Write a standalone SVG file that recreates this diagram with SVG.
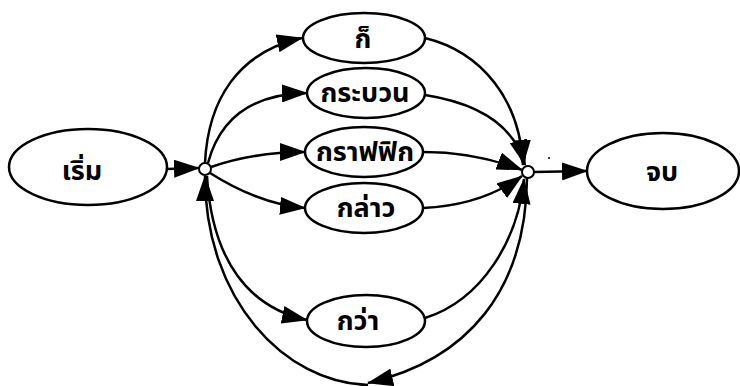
<svg xmlns="http://www.w3.org/2000/svg" width="740" height="386" viewBox="0 0 740 386">
<style>
.n ellipse{fill:#fff;stroke:#000;stroke-width:2.5}
.j{fill:#fff;stroke:#000;stroke-width:2}
.t{font-family:"Noto Sans Thai","Noto Sans Thai Looped","DejaVu Sans","Noto Sans",sans-serif;font-size:27px;font-weight:bold;text-anchor:middle;fill:#000}
#edges path{fill:none;stroke:#000;stroke-width:2.5;marker-end:url(#ah)}
</style>
<defs>
<marker id="ah" markerUnits="userSpaceOnUse" markerWidth="26" markerHeight="18" refX="25" refY="9" orient="auto" viewBox="0 0 26 18">
<path d="M0,0 L26,9 L0,18 z" fill="#000"/>
</marker>
</defs>
<rect width="740" height="386" fill="#fff"/>
<g id="edges">
<path d="M167,169 L199,168"/>
<path d="M205,163 C208,100 238,52 302,38"/>
<path d="M208,163 C220,118 252,94 307,93"/>
<path d="M211,167 C240,157 270,152 305,152"/>
<path d="M210,173 C240,192 270,205 305,208"/>
<path d="M207,176 C212,262 250,308 307,320"/>
<path d="M425,38 C482,52 520,100 523,165"/>
<path d="M425,95 C482,104 515,128 525,165"/>
<path d="M423,152 C462,152 496,160 522,170"/>
<path d="M423,208 C468,206 500,192 522,176"/>
<path d="M425,318 C482,300 518,240 524,179"/>
<path d="M534,172 L587,171"/>
<path d="M527,178 C526,290 468,360 368,383"/>
<path d="M368,385 C285,383 205,300 205,176"/>
</g>
<circle class="j" cx="205" cy="169" r="6"/>
<circle class="j" cx="528" cy="172" r="6"/>
<circle cx="549" cy="158" r="1" fill="#000"/>
<g id="n-start" class="n"><ellipse cx="88" cy="167" rx="79" ry="38"/><text class="t" x="82" y="180">เริ่ม</text></g>
<g id="n-ko" class="n"><ellipse cx="364" cy="38" rx="61" ry="25"/><text class="t" x="363" y="48">ก็</text></g>
<g id="n-krabuan" class="n"><ellipse cx="366" cy="93" rx="59" ry="25"/><text class="t" x="365" y="102">กระบวน</text></g>
<g id="n-graphic" class="n"><ellipse cx="364" cy="152" rx="59" ry="25"/><text class="t" x="365" y="161">กราฟฟิก</text></g>
<g id="n-klao" class="n"><ellipse cx="364" cy="208" rx="59" ry="25"/><text class="t" x="366" y="217">กล่าว</text></g>
<g id="n-kwa" class="n"><ellipse cx="366" cy="321" rx="59" ry="26"/><text class="t" x="358" y="330">กว่า</text></g>
<g id="n-end" class="n"><ellipse cx="663" cy="171" rx="76" ry="38"/><text class="t" x="662" y="181">จบ</text></g>
</svg>
